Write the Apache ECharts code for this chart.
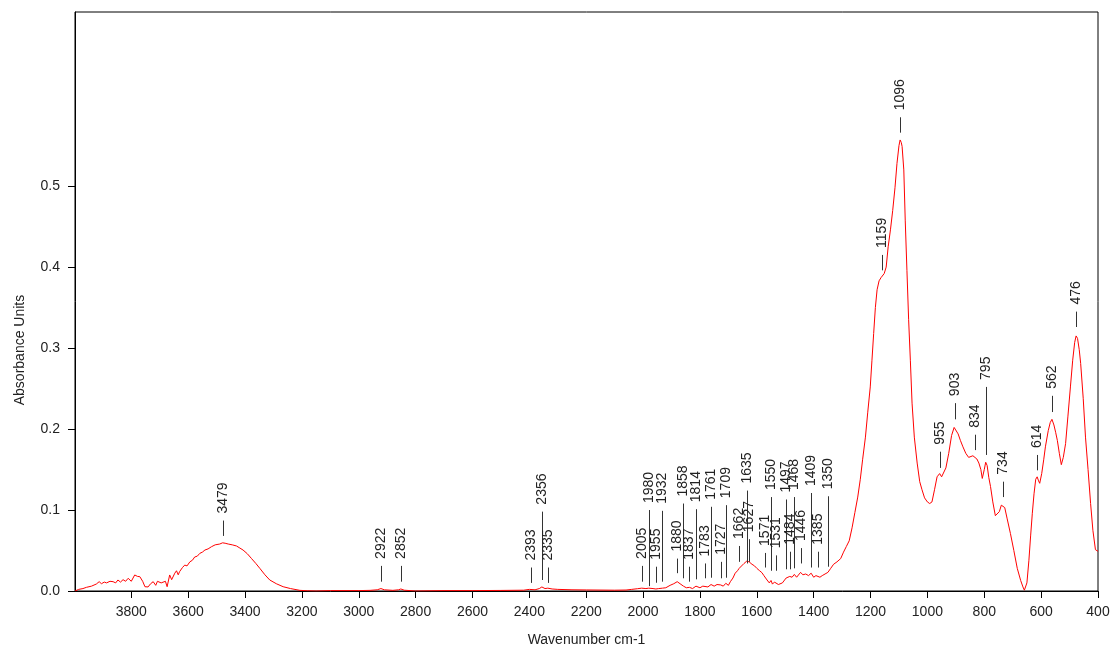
<html>
<head>
<meta charset="utf-8">
<title>IR spectrum</title>
<script src="https://cdn.jsdelivr.net/npm/echarts@6/dist/echarts.min.js"></script>
</head>
<body style="margin:0">
<div id="chart" style="width:1110px;height:650px;"></div>
<script>
// spectrum (high to low wavenumber)
var wavenumbers = [3998,3985,3970,3958,3940,3923,3913,3905,3895,3887,3875,3864,3855,3847,3838,3829,3820,3811,3800,3788,3778,3770,3760,3752,3741,3732,3723,3714,3708,3702,3695,3688,3680,3674,3665,3658,3653,3647,3641,3635,3630,3620,3612,3604,3594,3585,3577,3568,3559,3550,3541,3530,3518,3505,3489,3479,3470,3459,3445,3430,3418,3407,3392,3377,3362,3348,3330,3313,3290,3266,3240,3207,3180,3150,3100,3000,2960,2935,2922,2910,2880,2860,2852,2840,2800,2700,2600,2500,2420,2400,2393,2380,2365,2356,2345,2335,2320,2300,2250,2200,2100,2060,2040,2020,2005,1990,1980,1965,1955,1945,1932,1920,1905,1892,1880,1870,1858,1848,1837,1826,1814,1800,1790,1783,1772,1761,1750,1740,1727,1718,1709,1700,1693,1684,1676,1668,1662,1655,1645,1635,1627,1617,1608,1600,1590,1582,1575,1571,1564,1556,1550,1545,1538,1531,1524,1518,1510,1503,1497,1490,1484,1476,1468,1460,1453,1446,1438,1428,1418,1409,1400,1392,1385,1378,1370,1360,1350,1340,1330,1318,1305,1295,1285,1275,1265,1255,1245,1236,1228,1218,1210,1201,1195,1189,1183,1177,1170,1163,1157,1152,1145,1138,1130,1122,1114,1107,1100,1096,1092,1089,1083,1078,1072,1066,1060,1054,1046,1036,1027,1019,1010,1000,992,984,975,966,957,950,943,935,925,915,906,900,892,884,875,865,855,848,840,834,826,819,812,807,800,795,790,784,778,770,761,755,747,740,734,728,720,708,696,684,672,664,659,655,650,643,637,631,625,619,614,609,605,598,591,585,575,568,562,555,549,543,536,529,522,514,506,497,489,482,477,472,466,461,452,444,435,426,418,409,404,400];
var absorbance = [0.000,0.002,0.003,0.0045,0.006,0.0086,0.0115,0.009,0.011,0.010,0.012,0.0115,0.010,0.0136,0.011,0.014,0.012,0.0157,0.012,0.0198,0.018,0.0177,0.012,0.0053,0.005,0.009,0.0115,0.007,0.012,0.0144,0.010,0.008,0.012,0.0053,0.0198,0.014,0.015,0.022,0.025,0.020,0.024,0.029,0.032,0.031,0.036,0.038,0.042,0.043,0.0465,0.048,0.0506,0.052,0.0547,0.057,0.058,0.0595,0.059,0.058,0.057,0.0556,0.053,0.0506,0.046,0.040,0.034,0.028,0.020,0.0136,0.009,0.0053,0.003,0.0008,0.0003,0.000,0.0005,0.0005,0.0008,0.0015,0.003,0.0015,0.0008,0.0015,0.0025,0.001,0.000,0.0005,0.0005,0.0007,0.001,0.002,0.0025,0.0015,0.003,0.005,0.003,0.0035,0.0025,0.002,0.0015,0.0013,0.001,0.0012,0.002,0.0028,0.0035,0.003,0.0035,0.003,0.0025,0.003,0.0035,0.004,0.007,0.009,0.0115,0.009,0.006,0.004,0.0045,0.003,0.006,0.004,0.006,0.0075,0.005,0.008,0.006,0.008,0.0075,0.006,0.0095,0.007,0.0115,0.016,0.022,0.025,0.028,0.030,0.034,0.037,0.036,0.033,0.031,0.028,0.025,0.0226,0.019,0.020,0.0136,0.010,0.013,0.0085,0.011,0.0125,0.008,0.0074,0.010,0.012,0.016,0.014,0.018,0.017,0.0205,0.017,0.018,0.023,0.020,0.021,0.019,0.022,0.017,0.019,0.021,0.017,0.019,0.021,0.023,0.028,0.033,0.036,0.040,0.048,0.055,0.062,0.078,0.097,0.116,0.138,0.162,0.190,0.220,0.252,0.285,0.318,0.350,0.372,0.383,0.387,0.388,0.392,0.400,0.425,0.446,0.470,0.498,0.528,0.550,0.557,0.554,0.549,0.520,0.458,0.396,0.335,0.285,0.232,0.190,0.158,0.135,0.125,0.115,0.110,0.108,0.110,0.125,0.141,0.145,0.141,0.139,0.152,0.170,0.192,0.202,0.201,0.194,0.186,0.178,0.170,0.165,0.164,0.167,0.168,0.163,0.158,0.150,0.139,0.150,0.159,0.155,0.140,0.129,0.110,0.093,0.092,0.098,0.106,0.108,0.103,0.090,0.071,0.050,0.028,0.013,0.005,0.001,0.001,0.010,0.038,0.068,0.096,0.120,0.138,0.141,0.136,0.133,0.145,0.162,0.178,0.198,0.208,0.212,0.205,0.196,0.186,0.170,0.156,0.165,0.182,0.215,0.252,0.285,0.307,0.315,0.312,0.298,0.281,0.238,0.190,0.150,0.108,0.075,0.051,0.049,0.049];

// peak picks: [wavenumber, marker bottom, marker top] in absorbance units
var peakLabels = [
    [3479,0.068,0.087],[2922,0.0115,0.031],[2852,0.0115,0.031],
    [2393,0.010,0.029],[2356,0.0136,0.098],[2335,0.010,0.029],
    [2005,0.0115,0.031],[1980,0.006,0.100],[1955,0.0102,0.030],[1932,0.0115,0.099],
    [1880,0.022,0.040],[1858,0.0157,0.108],[1837,0.0115,0.030],[1814,0.0144,0.101],
    [1783,0.0157,0.034],[1761,0.0164,0.104],[1727,0.0157,0.036],[1709,0.0164,0.106],
    [1662,0.036,0.0556],[1635,0.034,0.124],[1627,0.036,0.064],[1571,0.029,0.047],
    [1550,0.025,0.116],[1531,0.025,0.044],[1497,0.0268,0.113],[1484,0.0268,0.0485],
    [1468,0.028,0.116],[1446,0.034,0.053],[1409,0.029,0.121],[1385,0.029,0.0485],
    [1350,0.030,0.117],
    [1159,0.396,0.415],[1096,0.566,0.585],[955,0.152,0.172],[903,0.212,0.232],
    [834,0.174,0.193],[795,0.168,0.252],[734,0.116,0.135],[614,0.149,0.168],
    [562,0.221,0.241],[476,0.326,0.345]
];

var xTicks = [400,600,800,1000,1200,1400,1600,1800,2000,2200,2400,2600,2800,3000,3200,3400,3600,3800];
var yTicks = [0,0.1,0.2,0.3,0.4,0.5];

window.onload = function(){
    var chart = echarts.init(document.getElementById('chart'));
    var font = '"Liberation Sans", Arial, sans-serif';
    var textColor = '#222';

    var points = wavenumbers.map(function(w, i){ return [w, absorbance[i]]; });

    var option = {
        animation: false,
        grid: { left: 75, right: 12, top: 12, bottom: 59, show: true, borderColor: '#000', borderWidth: 1,
                outerBoundsMode: 'none' },
        xAxis: {
            type: 'value',
            inverse: true,
            min: 400,
            max: 3998,
            name: 'Wavenumber cm-1',
            nameLocation: 'middle',
            nameGap: 42,
            nameTextStyle: { color: textColor, fontFamily: font, fontSize: 14 },
            axisLine: { lineStyle: { color: '#000' } },
            axisTick: { length: 7, lineStyle: { color: '#000' }, customValues: xTicks },
            axisLabel: { customValues: xTicks, color: textColor, fontFamily: font, fontSize: 14, margin: 14,
                formatter: function(v){ return String(v); } },
            splitLine: { show: false }
        },
        yAxis: {
            type: 'value',
            min: 0,
            max: 0.715,
            axisLine: { show: true, lineStyle: { color: '#000' } },
            axisTick: { show: true, length: 7, lineStyle: { color: '#000' }, customValues: yTicks },
            axisLabel: { customValues: yTicks, color: textColor, fontFamily: font, fontSize: 14, margin: 15,
                formatter: function(v){ return v.toFixed(1); } },
            splitLine: { show: false }
        },
        graphic: [{
            type: 'text',
            x: 20, y: 350,
            rotation: Math.PI / 2,
            style: { text: 'Absorbance Units', fill: textColor, font: '14px ' + font, align: 'center', verticalAlign: 'middle' }
        }],
        series: [
            {
                type: 'line',
                data: points,
                showSymbol: false,
                lineStyle: { color: '#ff0000', width: 1 },
                itemStyle: { color: '#ff0000' }
            },
            {
                type: 'custom',
                data: peakLabels,
                encode: { x: 0, y: [1, 2] },
                z: 5,
                renderItem: function(params, api){
                    var w = api.value(0);
                    var p0 = api.coord([w, api.value(1)]);
                    var p1 = api.coord([w, api.value(2)]);
                    var x = Math.round(p0[0]) + 0.5;
                    return {
                        type: 'group',
                        children: [
                            { type: 'line', shape: { x1: x, y1: p0[1], x2: x, y2: p1[1] }, style: { stroke: '#333', lineWidth: 1 } },
                            { type: 'text', x: x, y: p1[1] - 7, rotation: Math.PI / 2,
                              style: { text: String(w), fill: textColor, font: '14px ' + font, align: 'left', verticalAlign: 'middle' } }
                        ]
                    };
                }
            }
        ]
    };
    chart.setOption(option);
}
</script>
</body>
</html>
